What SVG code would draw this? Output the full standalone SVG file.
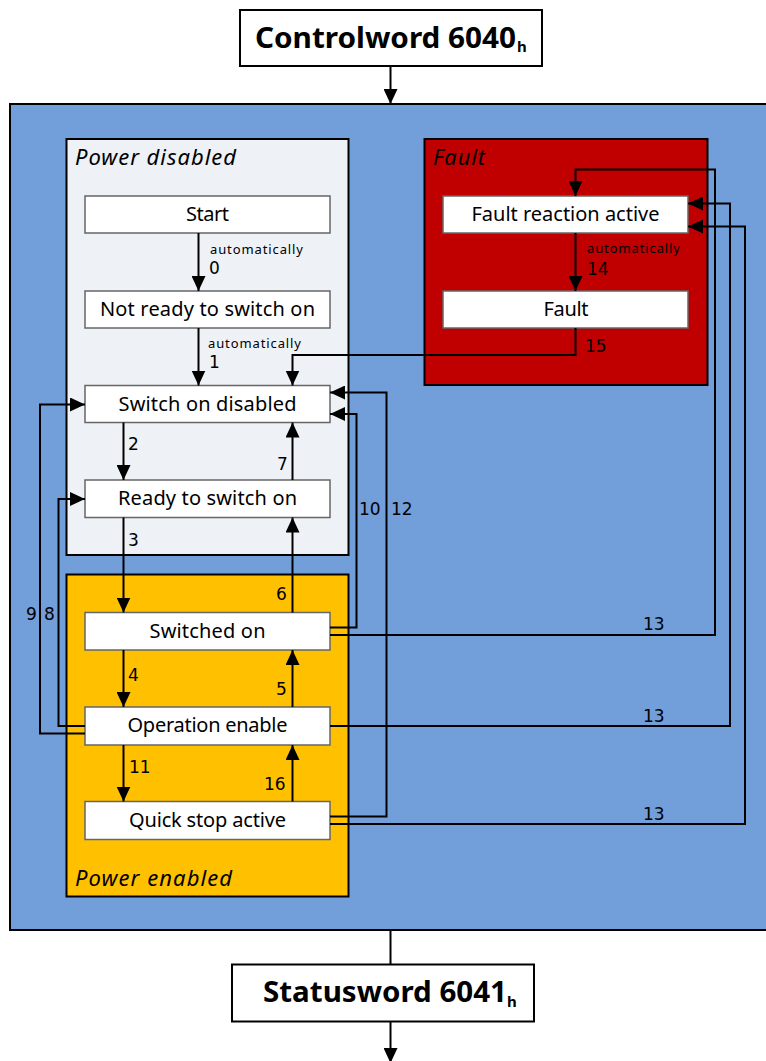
<svg xmlns="http://www.w3.org/2000/svg" width="766" height="1061" viewBox="0 0 766 1061">
<style>
.st{font-family:"Noto Sans","DejaVu Sans",sans-serif;font-size:20px;text-anchor:middle;fill:#000}
.grp{font-family:"Noto Sans","DejaVu Sans",sans-serif;font-size:22px;font-style:italic;fill:#000}
.n{font-family:"DejaVu Sans","Noto Sans",sans-serif;font-size:17px;fill:#000}
.auto{font-family:"Noto Sans","DejaVu Sans",sans-serif;font-size:13px;fill:#000}
.ttl{font-family:"Noto Sans","DejaVu Sans",sans-serif;font-size:29px;font-weight:bold;fill:#000}
.sub{font-family:"Noto Sans","DejaVu Sans",sans-serif;font-size:15px;font-weight:bold;fill:#000}
.box{fill:#fff;stroke:#666;stroke-width:1.5}
.gbox{stroke:#000;stroke-width:2}
.c{fill:none;stroke:#000;stroke-width:2}
.ca{fill:none;stroke:#000;stroke-width:2;marker-end:url(#ah)}
</style>
<defs>
<marker id="ah" markerUnits="userSpaceOnUse" markerWidth="15" markerHeight="14" refX="15" refY="7" orient="auto">
<path d="M0,0 L15,7 L0,14 z" fill="#000"/>
</marker>
</defs>
<rect width="766" height="1061" fill="#fff"/>
<g id="controlword">
<rect x="240" y="10" width="302" height="56" fill="#fff" stroke="#000" stroke-width="2"/>
<text class="ttl" x="255" y="48" textLength="261" lengthAdjust="spacingAndGlyphs">Controlword 6040</text>
<text class="sub" x="517" y="52">h</text>
</g>
<g id="drive">
<rect x="10" y="104" width="770" height="826" fill="#729EDA" stroke="#000" stroke-width="2"/>
</g>
<g id="power-disabled">
<rect class="gbox" x="66.5" y="139" width="282" height="416" fill="#EEF1F6"/>
<text class="grp" x="75" y="165" textLength="161">Power disabled</text>
</g>
<g id="fault-group">
<rect class="gbox" x="424.5" y="139" width="283" height="246" fill="#C00000"/>
<text class="grp" x="433" y="165" textLength="52">Fault</text>
</g>
<g id="power-enabled">
<rect class="gbox" x="66.5" y="574.5" width="282" height="322" fill="#FFC000"/>
<text class="grp" x="75" y="886" textLength="157">Power enabled</text>
</g>
<g id="start">
<rect class="box" x="85" y="196" width="245" height="37"/>
<text class="st" x="207.5" y="221" textLength="43">Start</text>
</g>
<g id="not-ready">
<rect class="box" x="85" y="291" width="245" height="37"/>
<text class="st" x="207.5" y="316" textLength="215">Not ready to switch on</text>
</g>
<g id="switch-on-disabled">
<rect class="box" x="85" y="385.5" width="245" height="37"/>
<text class="st" x="207.5" y="410.5" textLength="178">Switch on disabled</text>
</g>
<g id="ready-to-switch-on">
<rect class="box" x="85" y="480" width="245" height="37.5"/>
<text class="st" x="207.5" y="505" textLength="179">Ready to switch on</text>
</g>
<g id="switched-on">
<rect class="box" x="85" y="612.5" width="245" height="37.5"/>
<text class="st" x="207.5" y="638" textLength="116">Switched on</text>
</g>
<g id="operation-enable">
<rect class="box" x="85" y="707" width="245" height="38"/>
<text class="st" x="207.5" y="732" textLength="160">Operation enable</text>
</g>
<g id="quick-stop-active">
<rect class="box" x="85" y="801.5" width="245" height="38"/>
<text class="st" x="207.5" y="827" textLength="157">Quick stop active</text>
</g>
<g id="fault-reaction-active">
<rect class="box" x="443" y="196" width="245" height="37"/>
<text class="st" x="565.5" y="221" textLength="188">Fault reaction active</text>
</g>
<g id="fault">
<rect class="box" x="443" y="291" width="245" height="37"/>
<text class="st" x="566" y="316" textLength="45">Fault</text>
</g>
<g id="statusword">
<rect x="232" y="964.5" width="302" height="57" fill="#fff" stroke="#000" stroke-width="2"/>
<text class="ttl" x="263" y="1002" textLength="244" lengthAdjust="spacingAndGlyphs">Statusword 6041</text>
<text class="sub" x="507" y="1007">h</text>
</g>
<g id="connectors">
<path class="ca" d="M390.5,66 V104"/>
<path class="c" d="M390.5,930 V964.5"/>
<path class="ca" d="M390.5,1021.5 V1063"/>
<path class="ca" d="M198.5,233 V291"/>
<path class="ca" d="M198.5,328 V385.5"/>
<path class="ca" d="M575.5,233 V291"/>
<path class="ca" d="M575.5,328 V355 H292.5 V385.5"/>
<path class="ca" d="M123.5,422.5 V480"/>
<path class="ca" d="M292.5,480 V422.5"/>
<path class="ca" d="M123.5,517.5 V612.5"/>
<path class="ca" d="M292.5,612.5 V517.5"/>
<path class="ca" d="M123.5,650 V707"/>
<path class="ca" d="M292.5,707 V650"/>
<path class="ca" d="M123.5,745 V801.5"/>
<path class="ca" d="M292.5,801.5 V745"/>
<path class="ca" d="M85,733.5 H40 V404.5 H85"/>
<path class="ca" d="M85,726 H58.5 V499 H85"/>
<path class="ca" d="M330,627.5 H356.5 V414 H330"/>
<path class="ca" d="M330,816.5 H386.5 V392.5 H330"/>
<path class="ca" d="M330,635 H715 V169.5 H575.5 V196"/>
<path class="ca" d="M330,726 H730 V203.5 H688"/>
<path class="ca" d="M330,824 H745 V226.5 H688"/>
</g>
<g id="labels">
<text class="auto" x="210" y="254" textLength="93">automatically</text>
<text class="n" x="209" y="274">0</text>
<text class="auto" x="208" y="348" textLength="93">automatically</text>
<text class="n" x="209" y="368">1</text>
<text class="auto" x="587" y="253" textLength="93">automatically</text>
<text class="n" x="587" y="275">14</text>
<text class="n" x="585" y="352">15</text>
<text class="n" x="128" y="450">2</text>
<text class="n" x="277" y="470">7</text>
<text class="n" x="128" y="546">3</text>
<text class="n" x="359" y="515">10</text>
<text class="n" x="391" y="515">12</text>
<text class="n" x="276" y="600">6</text>
<text class="n" x="26" y="620">9</text>
<text class="n" x="44" y="620">8</text>
<text class="n" x="128" y="681">4</text>
<text class="n" x="276" y="695">5</text>
<text class="n" x="129" y="773">11</text>
<text class="n" x="264" y="790">16</text>
<text class="n" x="643" y="630">13</text>
<text class="n" x="643" y="722">13</text>
<text class="n" x="643" y="820">13</text>
</g>
</svg>
